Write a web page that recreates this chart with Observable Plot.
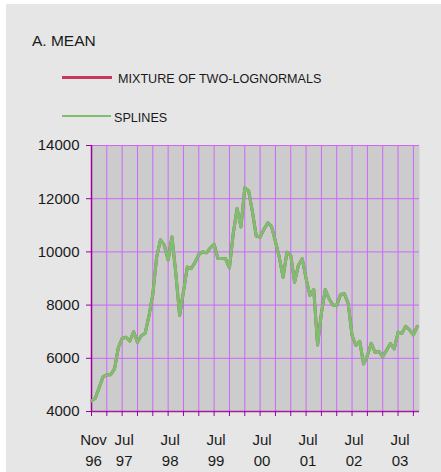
<!DOCTYPE html>
<html>
<head>
<meta charset="utf-8">
<script src="https://cdn.jsdelivr.net/npm/d3@7"></script>
<script src="https://cdn.jsdelivr.net/npm/@observablehq/plot@0.6"></script>
<style>
  body { margin:0; background:#ffffff; width:441px; height:472px; overflow:hidden; position:relative; font-family:"Liberation Sans", Arial, Helvetica, sans-serif; }
  #panel { position:absolute; left:6px; top:4px; width:435px; height:468px; background:#e6e6e6; }
  .txt { position:absolute; white-space:nowrap; line-height:1; color:#1a1a1a; }
  .sw { position:absolute; }
  #chart { position:absolute; left:0; top:130px; }
</style>
</head>
<body>
<div id="panel"></div>
<div class="txt" style="left:32px; top:33.4px; font-size:15.5px;">A. MEAN</div>
<div class="sw" style="left:62px; top:76.3px; width:50px; height:2.5px; background:#c53a5c;"></div>
<div class="txt" style="left:118px; top:73px; font-size:12.6px;">MIXTURE OF TWO-LOGNORMALS</div>
<div class="sw" style="left:62px; top:114.8px; width:49px; height:2.4px; background:#7cbf6e;"></div>
<div class="txt" style="left:114px; top:111.6px; font-size:12.6px;">SPLINES</div>
<div id="chart"></div>
<script>
// Monthly categories, Nov 1996 .. Dec 2003
const months = [
  "1996-11","1996-12",
  "1997-01","1997-02","1997-03","1997-04","1997-05","1997-06","1997-07","1997-08","1997-09","1997-10","1997-11","1997-12",
  "1998-01","1998-02","1998-03","1998-04","1998-05","1998-06","1998-07","1998-08","1998-09","1998-10","1998-11","1998-12",
  "1999-01","1999-02","1999-03","1999-04","1999-05","1999-06","1999-07","1999-08","1999-09","1999-10","1999-11","1999-12",
  "2000-01","2000-02","2000-03","2000-04","2000-05","2000-06","2000-07","2000-08","2000-09","2000-10","2000-11","2000-12",
  "2001-01","2001-02","2001-03","2001-04","2001-05","2001-06","2001-07","2001-08","2001-09","2001-10","2001-11","2001-12",
  "2002-01","2002-02","2002-03","2002-04","2002-05","2002-06","2002-07","2002-08","2002-09","2002-10","2002-11","2002-12",
  "2003-01","2003-02","2003-03","2003-04","2003-05","2003-06","2003-07","2003-08","2003-09","2003-10","2003-11","2003-12"
];

// Spline-estimated mean
const splines = [
  4400,4500,
  4900,5300,5380,5380,5600,6400,6750,6790,6650,7000,6600,6850,
  6940,7600,8400,9800,10450,10250,9700,10560,9200,7610,8500,9430,
  9370,9600,9900,10000,9970,10150,10280,9750,9750,9740,9400,10700,
  11630,10940,12400,12300,11500,10600,10560,10850,11090,10950,10400,9800,
  9050,9990,9870,8860,9500,9745,9000,8360,8580,6500,7700,8580,
  8240,8000,7985,8400,8425,8050,6855,6480,6640,5790,6100,6560,
  6225,6260,6060,6300,6550,6350,6980,6940,7200,7070,6880,7200
];

// Mixture of two lognormals (coincides with the splines line in the picture)
const mixture = [
  4400,4500,
  4900,5300,5380,5380,5600,6400,6750,6790,6650,7000,6600,6850,
  6940,7600,8400,9800,10450,10250,9700,10560,9200,7610,8500,9430,
  9370,9600,9900,10000,9970,10150,10280,9750,9750,9740,9400,10700,
  11630,10940,12400,12300,11500,10600,10560,10850,11090,10950,10400,9800,
  9050,9990,9870,8860,9500,9745,9000,8360,8580,6500,7700,8580,
  8240,8000,7985,8400,8425,8050,6855,6480,6640,5790,6100,6560,
  6225,6260,6060,6300,6550,6350,6980,6940,7200,7070,6880,7200
];

// Tick labels
const xTickMonths = ["1996-11","1997-07","1998-07","1999-07","2000-07","2001-07","2002-07","2003-07"];
const xTickLabels = ["Nov\n96","Jul\n97","Jul\n98","Jul\n99","Jul\n00","Jul\n01","Jul\n02","Jul\n03"];
const yTicks = [4000,6000,8000,10000,12000,14000];

const rows = months.map((m, i) => ({i, month:m, value:mixture[i]}));
const rowsS = months.map((m, i) => ({i, month:m, value:splines[i]}));

const gridIdx = months.map((m, i) => i).filter(i => i % 4 === 0);
const labelRows = xTickMonths.map((m, k) => ({i: months.indexOf(m), label: xTickLabels[k]}));

const plot = Plot.plot({
  width: 441,
  height: 342,
  marginLeft: 91,
  marginRight: 22,
  marginTop: 15,
  marginBottom: 61,
  style: {background:"transparent", fontFamily:"'Liberation Sans', Arial, Helvetica, sans-serif", fontSize:"15px", color:"#1a1a1a"},
  x: {domain:[0, 85.6]},
  y: {domain:[4000, 14000]},
  marks: [
    Plot.frame({fill:"#cccccc", stroke:null}),
    Plot.ruleX(gridIdx.filter(i => i > 0), {stroke:"#cc66ff", strokeWidth:1}),
    Plot.ruleY(yTicks.filter(v => v > 4000), {stroke:"#cc66ff", strokeWidth:1}),
    Plot.ruleX([0], {stroke:"#990099", strokeWidth:1.5}),
    Plot.ruleY([4000], {stroke:"#a020a0", strokeWidth:1.5}),
    Plot.line(rows, {x:"i", y:"value", stroke:"#c53a5c", strokeWidth:3}),
    Plot.line(rowsS, {x:"i", y:"value", stroke:"#7cbf6e", strokeWidth:3}),
    Plot.axisX({ticks: gridIdx, tickSize:5, stroke:"#990099", tickFormat: () => "", label:null}),
    Plot.text(labelRows, {x:"i", y: () => 4000, text:"label", lineAnchor:"top", lineHeight:1.38,
      dy:19, dx:2, fontSize:15, fill:"#1a1a1a", clip:false}),
    Plot.axisY({ticks: yTicks, tickSize:5, stroke:"#990099", tickFormat: () => "", label:null}),
    Plot.axisY({ticks: yTicks, tickSize:0, tickPadding:12, fill:"#1a1a1a",
      tickFormat: d => String(d), label:null, fontSize:15})
  ]
});
document.getElementById("chart").appendChild(plot);
</script>
</body>
</html>
